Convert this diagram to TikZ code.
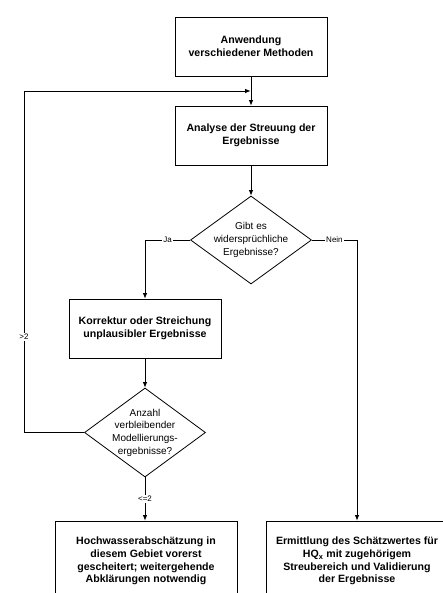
\documentclass[tikz,border=0pt]{standalone}
\usepackage{fontspec}
\setmainfont{Liberation Sans}
\usetikzlibrary{shapes.geometric, arrows.meta}
\tikzset{>={Latex[length=5.5pt,width=4.5pt]}}

\begin{document}
\begin{tikzpicture}[
    x = 1pt, y = -1pt,
    line width = 0.8pt,
    box/.style = {draw, align = center, inner sep = 2pt, minimum width = 152pt, minimum height = 59pt, font = \bfseries\fontsize{10.6}{12.6}\selectfont},
    wbox/.style = {box, minimum width = 182pt, minimum height = 80pt},
    dec/.style = {draw, diamond, align = center, inner sep = -3pt, aspect = 1.375, minimum width = 121pt, minimum height = 88pt, font = \fontsize{10}{12.7}\selectfont},
    lbl/.style = {fill = white, inner sep = 1pt, font = \fontsize{8}{9}\selectfont}
]
\useasboundingbox (0,0) rectangle (443,593);
\clip (0,0) rectangle (443,593);

\node[box] (meth) at (251, 46.5) {Anwendung\\verschiedener Methoden};
\node[box] (streu) at (251, 135.5) {Analyse der Streuung der\\Ergebnisse};
\node[dec] (wid) at (251, 240) {Gibt es\\widersprüchliche\\Ergebnisse?};
\node[box] (korr) at (145, 328.5) {Korrektur oder Streichung\\unplausibler Ergebnisse};
\node[dec, minimum height = 89pt] (anz) at (145, 432.5) {Anzahl\\verbleibender\\Modellierungs-\\ergebnisse?};
\node[wbox] (gesch) at (146, 561) {Hochwasserabschätzung in\\diesem Gebiet vorerst\\gescheitert; weitergehende\\Abklärungen notwendig};
\node[wbox] (hqx) at (357, 561) {Ermittlung des Schätzwertes für\\HQ\textsubscript{x} mit zugehörigem\\Streubereich und Validierung\\der Ergebnisse};

\coordinate (join) at (250.6, 91);
\coordinate (back) at (24, 91);

\draw[->] (meth) -- (streu);
\draw[->] (streu) -- (wid);
\draw[->] (wid.west) -| node[lbl, pos = 0.25] {Ja} (korr.north);
\draw[->] (wid.east) -| node[lbl, pos = 0.25] {Nein} (hqx.north);
\draw[->] (korr) -- (anz);
\draw[->] (anz.south) -- node[lbl] {<=2} (anz.south |- gesch.north);
\draw[->] (anz.west) -- (anz.west -| back) -- node[lbl, pos = 0.28] {>2} (back) -- (join);
\end{tikzpicture}
\end{document}
